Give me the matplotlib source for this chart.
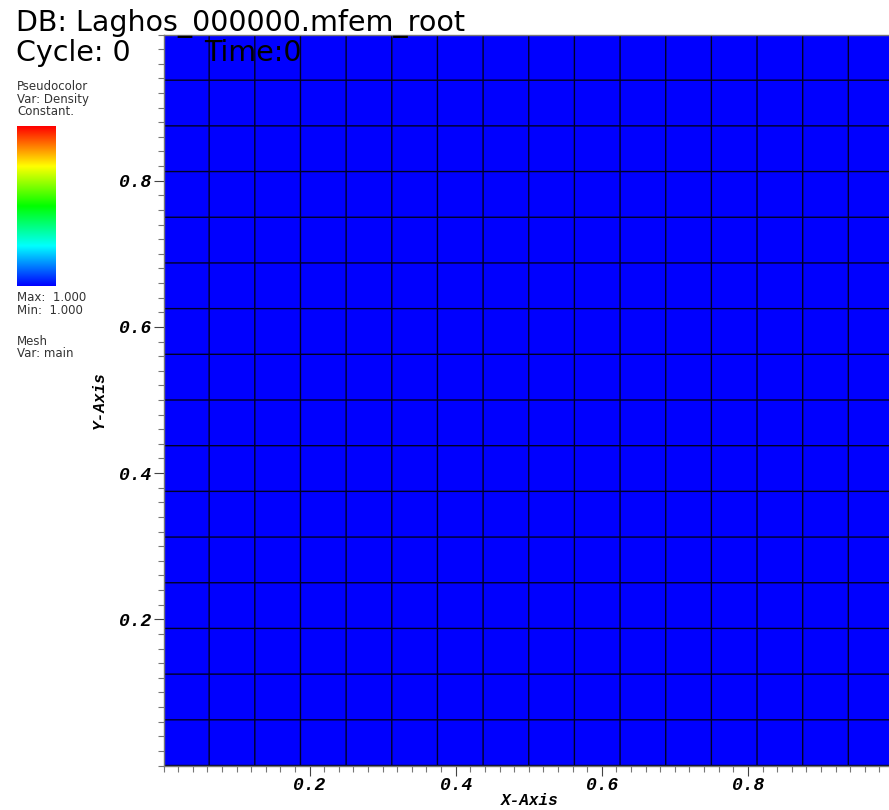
import numpy as np
import matplotlib
matplotlib.use('Agg')
import matplotlib.pyplot as plt
from matplotlib.colors import LinearSegmentedColormap, Normalize
from matplotlib.ticker import MultipleLocator

# 16x16 quad mesh, density constant (Max 1.000 / Min 1.000)
nx, ny = 16, 16
x_edges = np.linspace(0.0, 1.0, nx + 1)
y_edges = np.linspace(0.0, 1.0, ny + 1)
density = np.full((ny, nx), 1.0)
dens_min, dens_max = 1.0, 1.0

xticks = [0.2, 0.4, 0.6, 0.8]
yticks = [0.2, 0.4, 0.6, 0.8]

title_db = 'DB: Laghos_000000.mfem_root'
title_cycle = 'Cycle: 0'
title_time = 'Time:0'
legend_lines = ['Pseudocolor', 'Var: Density', 'Constant.']
mesh_lines = ['Mesh', 'Var: main']

hot = LinearSegmentedColormap.from_list(
    'visit_hot', ['#0000ff', '#00ffff', '#00ff00', '#ffff00', '#ff0000'])

W, H = 889, 810
fig = plt.figure(figsize=(W / 100, H / 100), dpi=100)

def fx(px):
    return px / W

def fy(py):
    return 1 - py / H

# main plot
ax = fig.add_axes([fx(163.5), fy(765.5), (894 - 163.5) / W, (765.5 - 34.5) / H])
ax.pcolormesh(x_edges, y_edges, density, cmap=hot,
              norm=Normalize(vmin=dens_min, vmax=dens_max + 1e-9),
              edgecolors='none', snap=False)
# mesh plot (Var: main)
ax.vlines(x_edges, 0, 1, colors='#000028', linewidth=1.0, snap=False, zorder=3)
ax.hlines(y_edges, 0, 1, colors='#000028', linewidth=1.0, snap=False, zorder=3)
ax.set_xlim(0, 1)
ax.set_ylim(0, 1)
ax.set_xticks(xticks)
ax.set_yticks(yticks)
ax.xaxis.set_minor_locator(MultipleLocator(0.02))
ax.yaxis.set_minor_locator(MultipleLocator(0.02))
ax.tick_params(which='major', length=7, width=0.8, color='#444444', direction='out')
ax.tick_params(which='minor', length=4, width=0.8, color='#777777', direction='out')
tick_font = dict(family='Liberation Mono', weight='bold', style='italic', size=13)
ax.set_xticklabels(['%.1f' % t for t in xticks], fontdict=tick_font)
ax.set_yticklabels(['%.1f' % t for t in yticks], fontdict=tick_font)
ax.tick_params(axis='x', pad=1)
ax.tick_params(axis='y', pad=2)
for s in ax.spines.values():
    s.set_color('#777777')
    s.set_linewidth(1.0)
    s.set_zorder(4)
ax.set_xlabel('X-Axis', fontdict=dict(family='Liberation Mono', weight='bold',
                                       style='italic', size=11.5))
ax.xaxis.set_label_coords((530 - 163.5) / (894 - 163.5), -0.038)
ax.set_ylabel('Y-Axis', fontdict=dict(family='Liberation Mono', weight='bold',
                                       style='italic', size=11.5))
ax.yaxis.set_label_coords(-0.078, (765.5 - 400) / (765.5 - 34.5))

# annotations
fig.text(fx(16), fy(31), title_db, family='DejaVu Sans', size=20.5,
         color='black', va='baseline', ha='left')
fig.text(fx(16), fy(61), title_cycle, family='DejaVu Sans', size=20.5,
         color='black', va='baseline', ha='left')
fig.text(fx(204), fy(61), title_time, family='DejaVu Sans', size=20.5,
         color='black', va='baseline', ha='left', zorder=10)

for i, t in enumerate(legend_lines):
    fig.text(fx(17), fy(90 + 12.5 * i), t, family='DejaVu Sans', size=8.5,
             color='#333333', va='baseline', ha='left')
fig.text(fx(17), fy(301), 'Max:  %.3f' % dens_max, family='DejaVu Sans', size=8.5,
         color='#333333', va='baseline', ha='left')
fig.text(fx(17), fy(314), 'Min:  %.3f' % dens_min, family='DejaVu Sans', size=8.5,
         color='#333333', va='baseline', ha='left')
for i, t in enumerate(mesh_lines):
    fig.text(fx(17), fy(345 + 12.5 * i), t, family='DejaVu Sans', size=8.5,
             color='#333333', va='baseline', ha='left')

# colour bar
cax = fig.add_axes([fx(17), fy(286), 39 / W, 160 / H])
grad = np.linspace(0, 1, 256).reshape(-1, 1)
cax.imshow(grad, cmap=hot, aspect='auto', origin='lower')
cax.set_axis_off()

fig.savefig('out.png', dpi=100)
